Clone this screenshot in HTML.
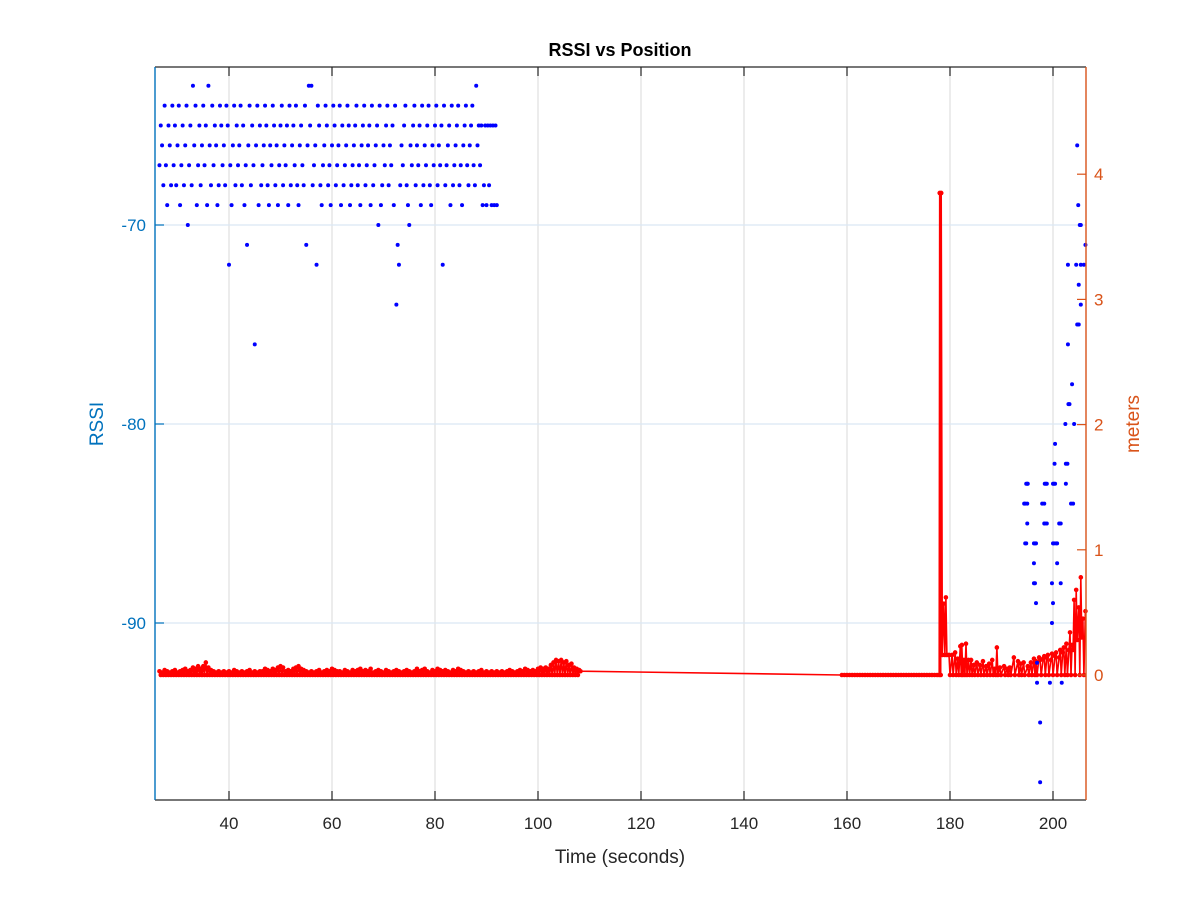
<!DOCTYPE html>
<html><head><meta charset="utf-8"><title>RSSI vs Position</title>
<style>
html,body{margin:0;padding:0;background:#fff;}
svg{display:block;font-family:"Liberation Sans",Arial,sans-serif;}
</style></head>
<body>
<svg id="chart" width="1200" height="900" viewBox="0 0 1200 900">
  <rect x="0" y="0" width="1200" height="900" fill="#fff"/>
  <rect x="155" y="67" width="931" height="733" fill="#fff"/>
  <g id="grid"></g>
  <g id="red"></g>
  <g id="blue"></g>
  <g id="axes"></g>
  <text x="620" y="56" text-anchor="middle" font-size="18" font-weight="bold" fill="#000">RSSI vs Position</text>
  <text x="620" y="863" text-anchor="middle" font-size="19" fill="#262626">Time (seconds)</text>
  <text transform="translate(103,424) rotate(-90)" text-anchor="middle" font-size="19" fill="#0072BD">RSSI</text>
  <text transform="translate(1139,424) rotate(-90)" text-anchor="middle" font-size="19" fill="#D95319">meters</text>
</svg>
<script>
// ---- data ----
const xTicks = [40,60,80,100,120,140,160,180,200];
const leftTicks = [-90,-80,-70];
const rightTicks = [0,1,2,3,4];
const rssiEarlyStart = 26.5;
const rssiEarlyStep = 0.25;
const rssiEarly = [
-67,-65,-66,-68,-64,-67,-69,-65,-66,-68,-64,-67,-65,-68,-66,-64,-69,-67,-65,-68,
-66,-64,-70,-67,-65,-68,-63,-66,-64,-69,-67,-65,-68,-66,-64,-67,-65,-69,-63,-66,
-68,-64,-67,-65,-66,-69,-68,-64,-65,-67,-66,-68,-64,-65,-72,-67,-69,-66,-64,-68,
-65,-67,-66,-64,-68,-65,-69,-67,-71,-66,-64,-68,-65,-67,-76,-66,-64,-69,-65,-68,
-67,-66,-64,-65,-68,-69,-66,-67,-64,-65,-68,-66,-69,-67,-65,-64,-68,-66,-67,-65,
-69,-64,-68,-66,-65,-67,-64,-68,-69,-66,-65,-67,-68,-64,-71,-66,-63,-65,-63,-68,
-67,-66,-72,-64,-65,-68,-69,-67,-66,-64,-65,-68,-67,-69,-66,-64,-65,-68,-67,-66,
-64,-69,-65,-68,-67,-66,-64,-65,-69,-68,-67,-66,-65,-64,-68,-67,-69,-66,-65,-64,
-68,-67,-66,-65,-69,-64,-68,-67,-66,-65,-70,-64,-69,-68,-66,-67,-65,-64,-68,-66,
-67,-65,-69,-64,-74,-71,-72,-68,-66,-67,-65,-64,-68,-69,-70,-66,-67,-65,-64,-68,
-66,-67,-65,-69,-64,-68,-66,-67,-65,-64,-68,-69,-66,-67,-65,-64,-68,-66,-67,-65,
-72,-64,-68,-67,-66,-65,-69,-64,-68,-67,-66,-65,-64,-68,-67,-69,-66,-65,-64,-67,
-68,-66,-65,-64,-67,-68,-63,-66,-65,-67,-65,-69,-68,-65,-69,-65,-68,-65,-69,-65,
-69,-65,-69];
const rssiLateTimes = [203.7,203,203.2,202.4,204.1,200.4,200.3,202.5,202.8,
194.8,195,195.1,198.4,198.6,198.8,200,200.2,200.4,202.5,
194.4,194.6,195,197.9,198.3,203.5,203.9,
195,198.3,198.4,198.8,201.2,201.5,
194.6,194.8,196.3,196.5,196.7,200,200.2,200.6,200.8,
196.3,200.8,196.3,196.5,199.8,201.5,196.7,200,199.8,196.9,196.9,199.4,201.7,197.5,197.5,
204.7,204.9,205.2,205.4,206.3,202.9,204.5,205.4,206,205,205.4,204.7,205,202.9];
const rssiLateValues = [-78,-79,-79,-80,-80,-81,-82,-82,-82,
-83,-83,-83,-83,-83,-83,-83,-83,-83,-83,
-84,-84,-84,-84,-84,-84,-84,
-85,-85,-85,-85,-85,-85,
-86,-86,-86,-86,-86,-86,-86,-86,-86,
-87,-87,-88,-88,-88,-88,-89,-89,-90,-92,-93,-93,-93,-95,-98,
-66,-69,-70,-70,-71,-72,-72,-72,-72,-73,-74,-75,-75,-76];
const distEarlyStart = 26.5;
const distEarlyStep = 0.25;
const distEarly = [
.03,0,.02,0,.04,0,.03,0,.02,0,.03,0,.04,0,.02,0,.03,0,.04,0,
.05,0,.03,0,.04,0,.06,0,.05,0,.07,0,.05,0,.07,0,.10,0,.06,0,
.04,0,.03,0,.02,0,.03,0,.02,0,.03,0,.02,0,.03,0,.02,0,.04,0,
.03,0,.02,0,.03,0,.02,0,.03,0,.04,0,.02,0,.03,0,.02,0,.03,0,
.03,0,.05,0,.04,0,.03,0,.05,0,.04,0,.06,0,.07,0,.06,0,.03,0,
.04,0,.03,0,.05,0,.06,0,.07,0,.05,0,.04,0,.03,0,.02,0,.03,0,
.02,0,.03,0,.04,0,.02,0,.03,0,.04,0,.03,0,.05,0,.04,0,.03,0,
.03,0,.02,0,.04,0,.03,0,.02,0,.04,0,.03,0,.04,0,.05,0,.03,0,
.04,0,.03,0,.05,0,.02,0,.03,0,.04,0,.03,0,.02,0,.04,0,.03,0,
.02,0,.03,0,.04,0,.03,0,.02,0,.03,0,.04,0,.03,0,.02,0,.03,0,
.05,0,.03,0,.04,0,.05,0,.03,0,.02,0,.04,0,.03,0,.05,0,.04,0,
.03,0,.04,0,.03,0,.02,0,.04,0,.03,0,.05,0,.04,0,.03,0,.02,0,
.03,0,.02,0,.03,0,.02,0,.03,0,.04,0,.02,0,.03,0,.02,0,.03,0,
.02,0,.03,0,.02,0,.03,0,.02,0,.03,0,.04,0,.03,0,.02,0,.03,0,
.04,0,.03,0,.05,0,.04,0,.03,0,.04,0,.03,0,.05,0,.06,0,.05,0,
.06,0,.05,0,.08,0,.10,0,.12,0,.11,0,.12,0,.10,0,.11,0,.08,0,
.09,0,.06,0,.05,0,.04,.03];
const distLateTimes = [159,159.5,160,160.5,161,161.5,162,162.5,163,163.5,164,164.5,165,165.5,166,166.5,167,167.5,168,168.5,169,169.5,170,170.5,171,171.5,172,172.5,173,173.5,174,174.5,175,175.5,176,176.5,177,177.5,
177.9,178,178.2,178.3,178.5,178.8,179,179.2,179.4,179.8,180,180.4,180.6,181,181.2,181.5,181.7,182,182.2,182.3,182.5,
182.7,182.9,183.1,183.3,183.6,183.8,184.1,184.3,184.6,184.8,185.2,185.4,185.8,186,186.4,186.6,187,187.2,187.6,187.8,
188.2,188.4,188.7,188.9,189.1,189.3,189.7,189.9,190.5,190.7,191.1,191.3,191.6,191.8,192.4,192.6,193.2,193.4,193.7,193.9,
194.3,194.5,195.1,195.3,195.7,195.9,196.3,196.5,196.7,196.9,197.3,197.5,197.7,198.1,198.3,198.5,198.8,199,199.2,199.6,
199.8,200,200.4,200.6,200.8,201.2,201.4,201.6,201.9,202.1,202.3,202.6,202.8,203.1,203.3,203.5,203.7,203.9,204.1,204.3,
204.5,204.7,205,205.2,205.4,205.6,205.8,206,206.3];
const distLateValues = [0,0,0,0,0,0,0,0,0,0,0,0,0,0,0,0,0,0,0,0,0,0,0,0,0,0,0,0,0,0,0,0,0,0,0,0,0,0,
0,3.85,0,3.85,0.16,0.57,0.16,0.62,0.16,0.16,0,0.16,0,0.18,0,0.13,0,0.23,0,0.24,0,
0.12,0,0.25,0,0.12,0,0.12,0,0.08,0,0.1,0,0.08,0,0.11,0,0.07,0,0.09,0,
0.12,0,0.05,0,0.22,0,0.06,0,0.07,0,0.05,0,0.06,0,0.14,0,0.11,0,0.09,0,
0.1,0,0.07,0,0.1,0,0.13,0,0.11,0,0.14,0.12,0,0.13,0.15,0,0.14,0.16,0,0.12,
0.17,0,0.15,0.18,0,0.14,0.2,0,0.18,0.22,0,0.25,0,0.2,0.34,0,0.24,0.2,0.6,0,
0.68,0.28,0.54,0,0.78,0.3,0.45,0,0.51];

// ---- axes scales ----
const X0=155, X1=1086, Y0=67, Y1=800;
const xs = t => 229 + (t-40)*5.15;
const yL = r => 225 + (-70 - r)*19.9;
const yR = d => 675 - d*125.2;
const NS='http://www.w3.org/2000/svg';
function mk(tag, parent, attrs){const e=document.createElementNS(NS,tag);for(const k in attrs)e.setAttribute(k,attrs[k]);parent.appendChild(e);return e;}

const grid=document.getElementById('grid');
xTicks.forEach(t=>{
  const l=mk('line',grid,{x1:xs(t),x2:xs(t),y1:Y0,y2:Y1,stroke:'#dfdfdf','stroke-width':1.2});
  
  
});
leftTicks.forEach(v=>{
  const l=mk('line',grid,{x1:X0,x2:X1,y1:yL(v),y2:yL(v),stroke:'#dbe8f4','stroke-width':1.2});
  
  
});

// red distance series
const red=document.getElementById('red');
const dT=[], dV=[];
distEarly.forEach((v,i)=>{dT.push(distEarlyStart+i*distEarlyStep);dV.push(v);});
distLateTimes.forEach((t,i)=>{dT.push(t);dV.push(distLateValues[i]);});
const pts=dT.map((t,i)=>xs(t).toFixed(1)+','+yR(dV[i]).toFixed(1)).join(' ');
const pl=mk('polyline',red,{points:pts,fill:'none',stroke:'#ff0000','stroke-width':1.6,'stroke-linejoin':'round'});


dT.forEach((t,i)=>{
  const c=mk('circle',red,{cx:xs(t),cy:yR(dV[i]),r:2.3,fill:'#ff0000'});
  
  
});

// blue rssi series
const blue=document.getElementById('blue');
rssiEarly.forEach((v,i)=>{
  const c=mk('circle',blue,{cx:xs(rssiEarlyStart+i*rssiEarlyStep),cy:yL(v),r:2,fill:'#0000ff'});
  
  
});
rssiLateTimes.forEach((t,i)=>{
  const c=mk('circle',blue,{cx:xs(t),cy:yL(rssiLateValues[i]),r:2,fill:'#0000ff'});
  
  
});

// axes
const ax=document.getElementById('axes');
const topBorder=mk('line',ax,{x1:X0,x2:X1,y1:Y0,y2:Y0,stroke:'#262626','stroke-width':1.2});


const bottomAxis=mk('line',ax,{x1:X0,x2:X1,y1:Y1,y2:Y1,stroke:'#262626','stroke-width':1.2});


const leftAxis=mk('line',ax,{x1:X0,x2:X0,y1:Y0,y2:Y1,stroke:'#0072BD','stroke-width':1.4});


const rightAxis=mk('line',ax,{x1:X1,x2:X1,y1:Y0,y2:Y1,stroke:'#D95319','stroke-width':1.4});


xTicks.forEach(t=>{
  const a=mk('line',ax,{x1:xs(t),x2:xs(t),y1:Y1,y2:Y1-9,stroke:'#262626','stroke-width':1.2});
  
  
  const b=mk('line',ax,{x1:xs(t),x2:xs(t),y1:Y0,y2:Y0+9,stroke:'#262626','stroke-width':1.2});
  
  
  const tx=mk('text',ax,{x:xs(t),y:Y1+29,'text-anchor':'middle','font-size':17,fill:'#262626'});
  tx.textContent=t;
  
  
});
leftTicks.forEach(v=>{
  const a=mk('line',ax,{x1:X0,x2:X0+9,y1:yL(v),y2:yL(v),stroke:'#0072BD','stroke-width':1.2});
  
  
  const tx=mk('text',ax,{x:X0-9,y:yL(v)+6,'text-anchor':'end','font-size':17,fill:'#0072BD'});
  tx.textContent=v;
  
  
});
rightTicks.forEach(v=>{
  const a=mk('line',ax,{x1:X1,x2:X1-9,y1:yR(v),y2:yR(v),stroke:'#D95319','stroke-width':1.2});
  
  
  const tx=mk('text',ax,{x:X1+8,y:yR(v)+6,'text-anchor':'start','font-size':17,fill:'#D95319'});
  tx.textContent=v;
  
  
});
</script>
</body></html>
